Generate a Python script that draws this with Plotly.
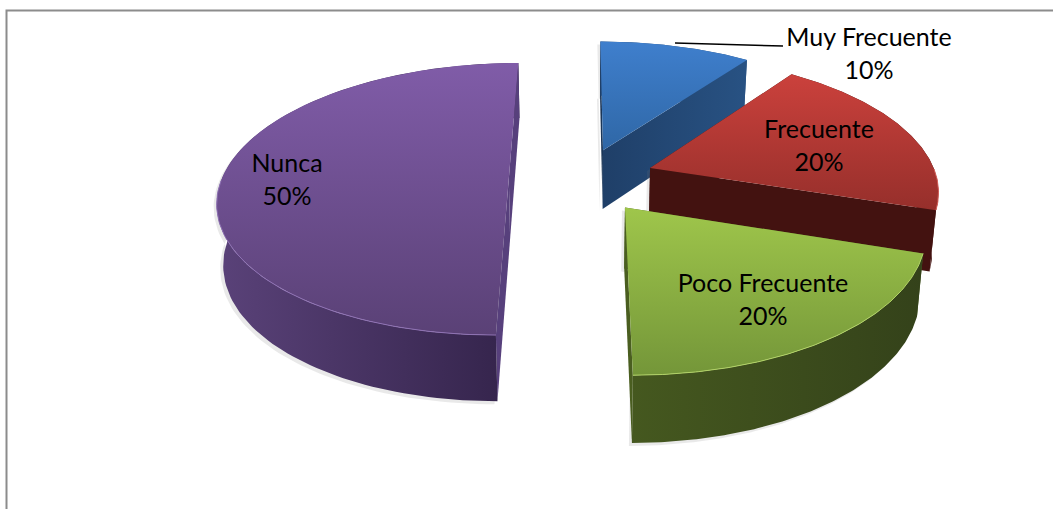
import numpy as np
import plotly.graph_objects as go

# ---- data ----
categories = ["Muy Frecuente", "Frecuente", "Poco Frecuente", "Nunca"]
values = [10, 20, 20, 50]

# ---- styling and layout of the drawing ----
explode_x = [0.0756, 0.24, 0.145, -0.255]
explode_y = [0.22, 0.08, -0.21, 0.0]
top_colors = [("#3f7fcd", "#2f67a6"), ("#cb413c", "#962f2b"), ("#9fc64b", "#749639"), ("#805ca8", "#5a4176")]
wall_colors = [("#1f3f68", "#285283"), ("#431210", "#431210"), ("#45581f", "#34421a"), ("#5a4279", "#33234a")]
band_colors = ["#1b3658", "#3a0f0d", "#4a5e20", "#57407c"]
rim_colors = ["#4f8ad2", "#d3605a", "#b1d266", "#8f72b4"]
label_xy = [(869, 40), (819, 132), (763, 286), (287, 166)]
leader = ([675, 783], [43, 46])

CX, CY, A, B, K, H = 582, 178.6, 287, 133, 0.15, 60
BOTTOM_SHRINK = 0.982
FONT = "Lato, Carlito, Calibri, sans-serif"


def project(X, Y):
    w = 1 + K * Y
    return CX + A * X / w, CY - B * Y / w, H * w ** -0.6


def lower(x):
    return CX + (np.asarray(x) - CX) * BOTTOM_SHRINK


def poly(xs, ys, colors, kind, line=None, width=0):
    xs, ys = list(xs), list(ys)
    lo, hi = (min(ys), max(ys)) if kind == "vertical" else (min(xs), max(xs))
    return go.Scatter(
        x=xs + xs[:1], y=ys + ys[:1], mode="lines", fill="toself",
        line=dict(color=line or colors[0], width=width),
        fillgradient=dict(type=kind, colorscale=[[0, colors[0]], [1, colors[1]]], start=lo, stop=hi),
        hoverinfo="skip", showlegend=False,
    )


fig = go.Figure()
total = sum(values)
start = 0.0
for i, v in enumerate(values):
    end = start + v / total * 2 * np.pi
    th = np.linspace(start, end, 120)
    ox, oy = explode_x[i], explode_y[i]
    ax, ay, ah = project(ox, oy)
    px, py, ph = project(ox + np.sin(th), oy + np.cos(th))
    bx, bax = lower(px), float(lower(ax))

    # soft drop shadow
    sx = np.r_[ax, px, bx[::-1], bax] - 3
    sy = np.r_[ay, py, (py + ph)[::-1], ay + ah] + 3
    fig.add_trace(go.Scatter(x=sx, y=sy, mode="lines", fill="toself", line=dict(width=0),
                             fillcolor="rgba(120,120,120,0.16)", hoverinfo="skip", showlegend=False))
    # hidden radial wall at the start angle
    fig.add_trace(poly([ax, px[0], bx[0], bax], [ay, py[0], py[0] + ph[0], ay + ah],
                       (band_colors[i], band_colors[i]), "vertical"))
    # outer curved wall
    fig.add_trace(poly(np.r_[px, bx[::-1]], np.r_[py, (py + ph)[::-1]], wall_colors[i], "horizontal"))
    # radial wall at the end angle
    c = (wall_colors[i][0], wall_colors[i][0]) if i < 2 else (band_colors[i], band_colors[i])
    fig.add_trace(poly([ax, px[-1], bx[-1], bax], [ay, py[-1], py[-1] + ph[-1], ay + ah],
                       (wall_colors[i][0], wall_colors[i][1]) if i == 0 else c, "horizontal"))
    # top surface
    fig.add_trace(poly(np.r_[ax, px], np.r_[ay, py], top_colors[i], "vertical"))
    # light rim on the front of the arc
    front = (np.cos(th) < 0.0)
    if front.any():
        fig.add_trace(go.Scatter(x=px[front], y=py[front], mode="lines",
                                 line=dict(color=rim_colors[i], width=1),
                                 hoverinfo="skip", showlegend=False))
    start = end

# leader line of the first label
fig.add_trace(go.Scatter(x=leader[0], y=leader[1], mode="lines", line=dict(color="#000000", width=1.5),
                         hoverinfo="skip", showlegend=False))

# labels
fig.add_trace(go.Scatter(
    x=[p[0] for p in label_xy], y=[p[1] for p in label_xy], mode="text", text=categories,
    textposition="middle center", textfont=dict(family=FONT, size=25, color="#000000"),
    hoverinfo="skip", showlegend=False))
fig.add_trace(go.Scatter(
    x=[p[0] for p in label_xy], y=[p[1] + 33 for p in label_xy], mode="text",
    text=[f"{round(v / total * 100)}%" for v in values],
    textposition="middle center", textfont=dict(family=FONT, size=25, color="#000000"),
    hoverinfo="skip", showlegend=False))

fig.update_layout(
    width=1053, height=509, margin=dict(l=0, r=0, t=0, b=0),
    paper_bgcolor="#ffffff", plot_bgcolor="#ffffff",
    xaxis=dict(range=[0, 1053], visible=False, fixedrange=True),
    yaxis=dict(range=[509, 0], visible=False, fixedrange=True),
    shapes=[dict(type="path", path="M 6.5 509 L 6.5 10.5 L 1053 10.5", xref="x", yref="y",
                 line=dict(color="#8c8c8c", width=2))],
)

fig.write_html("out.html", post_script="document.body.style.margin='0';document.body.style.overflow='hidden';",
               config={"displayModeBar": False})
